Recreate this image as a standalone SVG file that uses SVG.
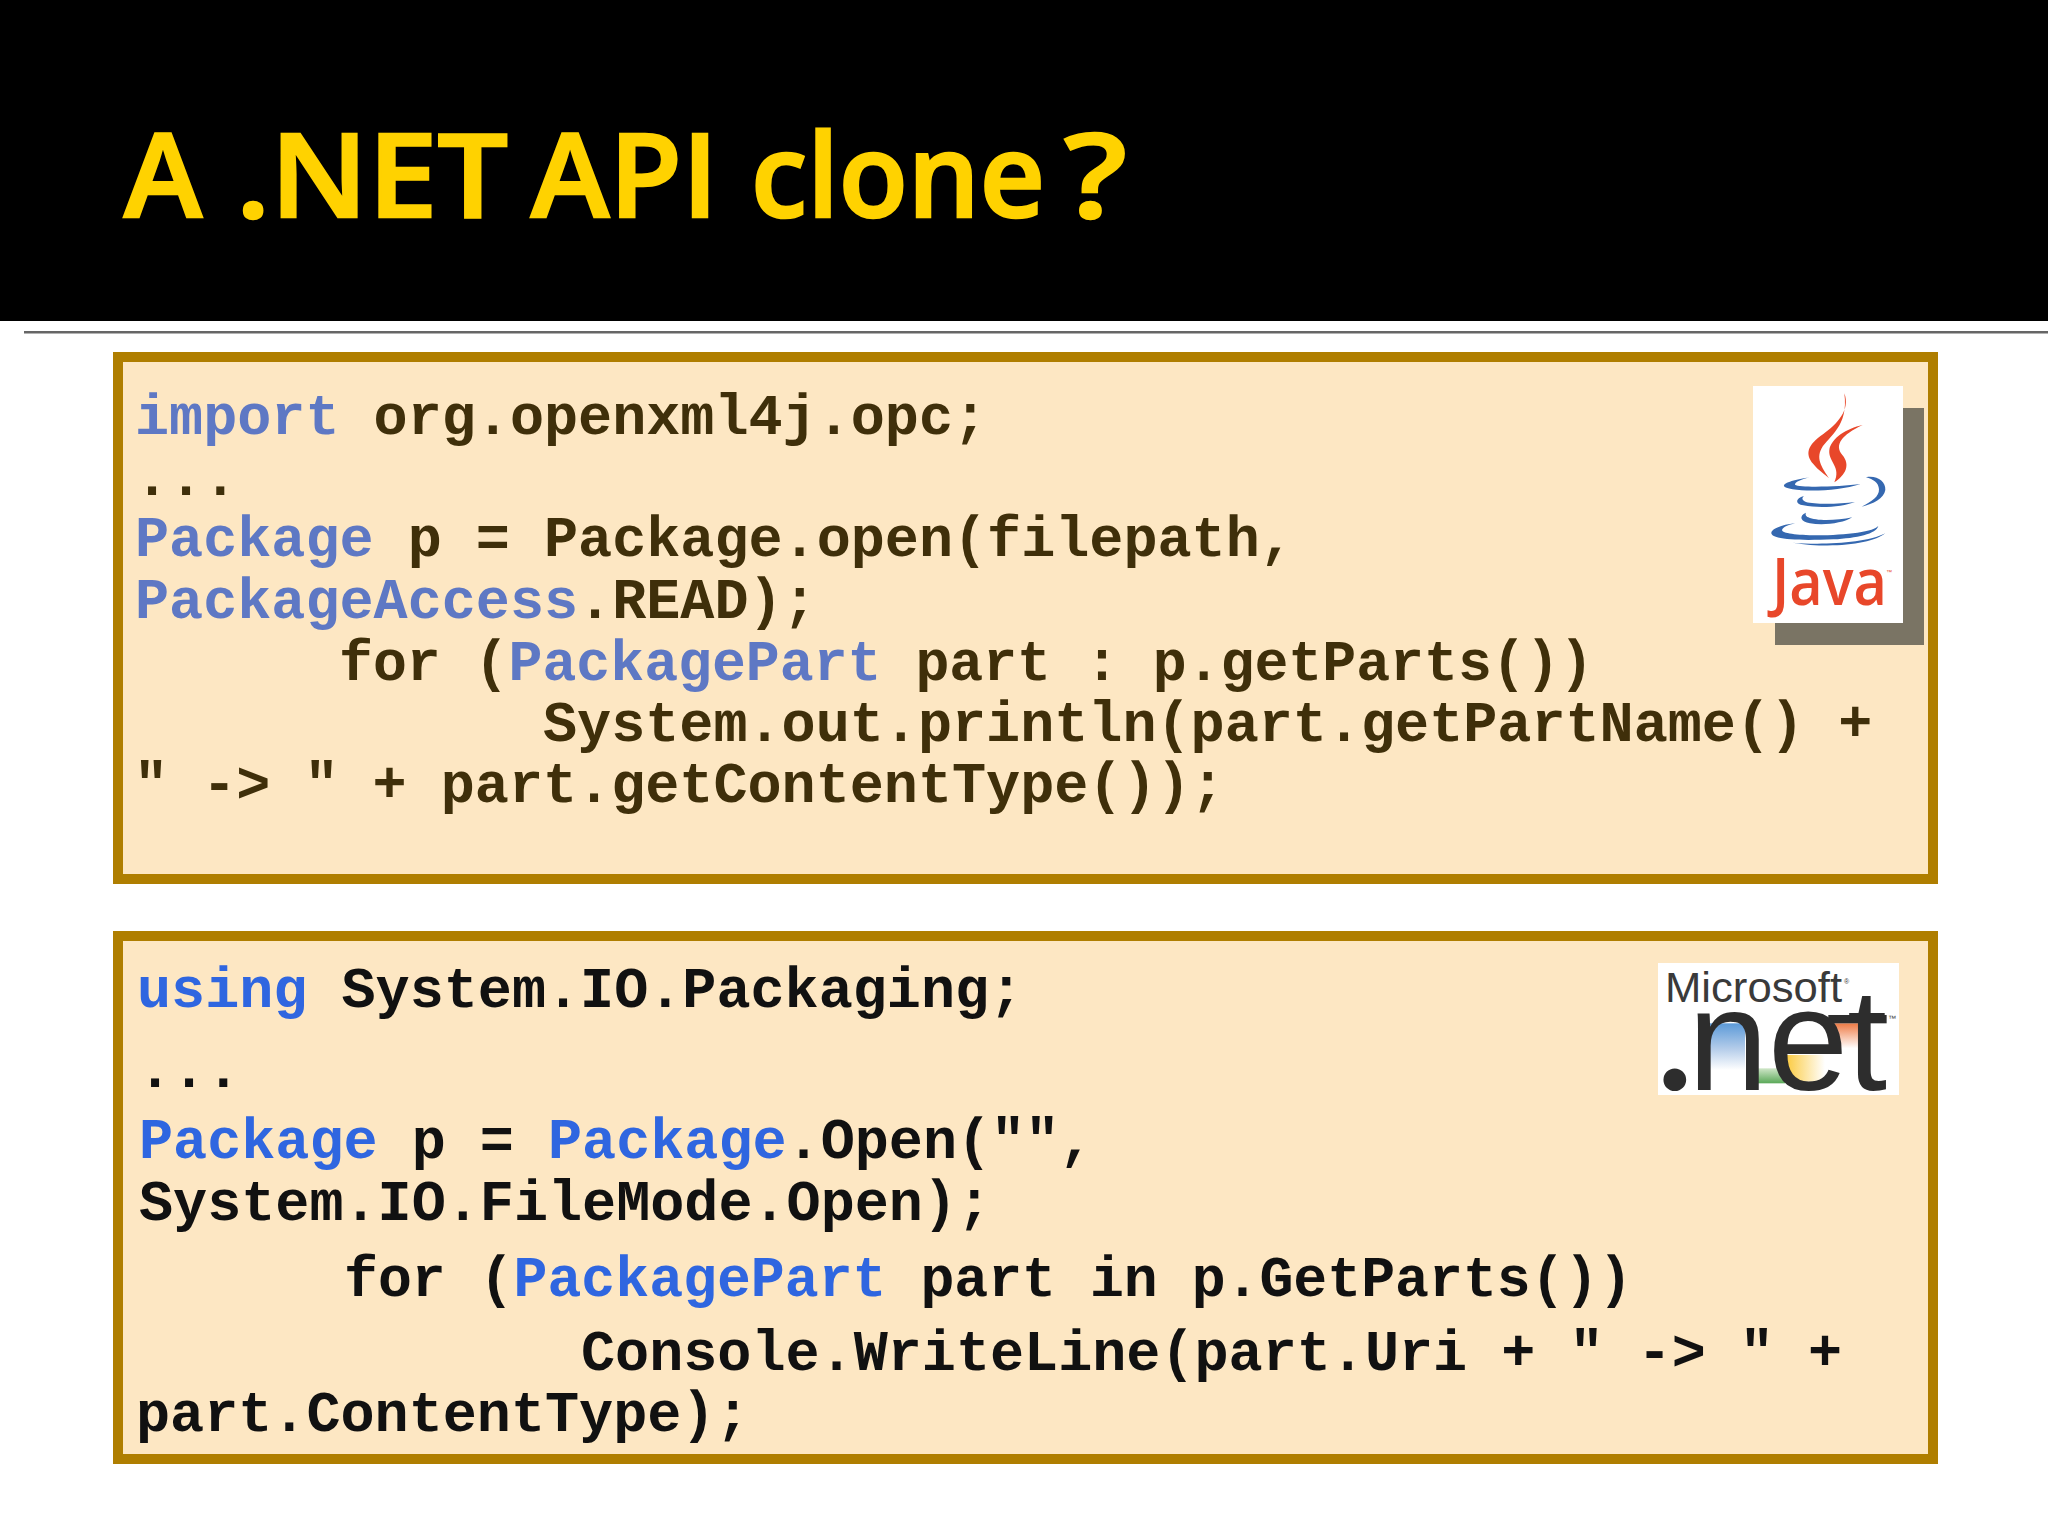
<svg xmlns="http://www.w3.org/2000/svg" width="2048" height="1536" viewBox="0 0 2048 1536">
<style>
.code{font-family:"Liberation Mono",monospace;font-weight:700;font-size:56.8px;white-space:pre}
.j{fill:#3f2f0a}.jk{fill:#5e78c4}.n{fill:#111}.nk{fill:#2f66e0}
.box{fill:#fde7c3;stroke:#af7e00;stroke-width:10}
.red{fill:#e8472a}.blu{fill:#3568b0}
.title{font-family:"Open Sans",sans-serif;font-size:116px;font-weight:600}
</style>
<defs>
<linearGradient id="gb" x1="0" y1="0" x2="0" y2="1"><stop offset="0" stop-color="#5c9ad8"/><stop offset="0.55" stop-color="#b5cdea"/><stop offset="1" stop-color="#fff"/></linearGradient>
<linearGradient id="gg" x1="0" y1="0" x2="0" y2="1"><stop offset="0" stop-color="#cfe6c8"/><stop offset="1" stop-color="#5aa858"/></linearGradient>
<linearGradient id="gy" x1="0" y1="0" x2="1" y2="0"><stop offset="0" stop-color="#fbc93a"/><stop offset="1" stop-color="#fff"/></linearGradient>
<linearGradient id="go" x1="0" y1="0" x2="0" y2="1"><stop offset="0" stop-color="#ee7a45"/><stop offset="1" stop-color="#fff"/></linearGradient>
</defs>
<rect width="2048" height="1536" fill="#fff"/>
<g id="header">
<rect width="2048" height="321" fill="#000"/>
<rect x="24" y="331" width="2024" height="2.5" fill="#666"/>
<text class="title" y="217" fill="#ffd200" stroke="#ffd200" stroke-width="2.5"><tspan x="124" textLength="78" lengthAdjust="spacingAndGlyphs">A</tspan><tspan x="236" textLength="272" lengthAdjust="spacingAndGlyphs">.NET</tspan><tspan x="531" textLength="187" lengthAdjust="spacingAndGlyphs">API</tspan><tspan x="751" textLength="294" lengthAdjust="spacingAndGlyphs">clone</tspan><tspan x="1064" textLength="63" lengthAdjust="spacingAndGlyphs">?</tspan></text>
</g>
<g id="java-box">
<rect class="box" x="118" y="357" width="1815" height="522"/>
<text class="code j" y="434" x="135"><tspan class="jk">import</tspan> org.openxml4j.opc;</text>
<text class="code j" y="495" x="135">...</text>
<text class="code j" y="556" x="135"><tspan class="jk">Package</tspan> p = Package.open(filepath,</text>
<text class="code j" y="618" x="135"><tspan class="jk">PackageAccess</tspan>.READ);</text>
<text class="code j" y="680" x="339" style="font-size:56.5px">for (<tspan class="jk">PackagePart</tspan> part : p.getParts())</text>
<text class="code j" y="741" x="543">System.out.println(part.getPartName() +</text>
<text class="code j" y="802" x="134">" -&gt; " + part.getContentType());</text>
</g>
<g id="java-logo">
<rect x="1775" y="408" width="149" height="237" fill="#7a7464"/>
<rect x="1753" y="386" width="150" height="237" fill="#fff"/>
<g transform="translate(1700,360) scale(0.3333)">
<path class="red" d="M433 100C452 150 412 192 370 222C322 255 314 282 340 312C355 332 375 342 387 355C372 330 345 300 365 265C385 230 447 200 433 100Z"/>
<path class="red" d="M488 195C440 205 393 235 388 270C384 305 425 320 403 367C437 345 452 315 427 285C402 255 425 225 488 195Z"/>
<path class="blu" d="M330 352C290 358 250 368 252 378C256 394 400 400 482 372C420 380 300 384 285 374C285 366 305 358 330 352Z"/>
<path class="blu" d="M498 352C530 345 558 365 556 390C552 415 520 432 485 440C515 425 538 410 537 388C536 368 520 358 498 352Z"/>
<path class="blu" d="M312 408C285 415 285 432 310 436C360 446 430 440 465 426C420 432 345 434 318 426C305 420 305 414 312 408Z"/>
<path class="blu" d="M318 458C295 468 302 485 330 490C370 497 430 490 457 472C410 482 350 484 325 472C316 468 316 462 318 458Z"/>
<path class="blu" d="M285 490C240 495 212 508 214 520C218 540 300 542 400 538C470 534 530 522 535 497C525 515 440 525 350 526C290 526 245 520 246 510C250 500 265 495 285 490Z"/>
<path class="blu" d="M556 520C520 550 400 568 278 548C360 556 500 550 556 520Z"/>
</g>
<text x="1772" y="605" font-family="'Open Sans',sans-serif" font-size="66" font-weight="600" class="red" textLength="115" lengthAdjust="spacingAndGlyphs">Java</text>
<text x="1886" y="574" font-family="'Liberation Sans',sans-serif" font-size="6" class="red">™</text>
</g>
<g id="net-box">
<rect class="box" x="118" y="936" width="1815" height="523"/>
<text class="code n" y="1007" x="137"><tspan class="nk">using</tspan> System.IO.Packaging;</text>
<text class="code n" y="1087" x="138">...</text>
<text class="code n" y="1158" x="139"><tspan class="nk">Package</tspan> p = <tspan class="nk">Package</tspan>.Open("",</text>
<text class="code n" y="1220" x="139">System.IO.FileMode.Open);</text>
<text class="code n" y="1296" x="344" style="font-size:56.5px">for (<tspan class="nk">PackagePart</tspan> part in p.GetParts())</text>
<text class="code n" y="1370" x="581">Console.WriteLine(part.Uri + " -&gt; " +</text>
<text class="code n" y="1431" x="136">part.ContentType);</text>
</g>
<g id="net-logo">
<rect x="1658" y="963" width="241" height="132" fill="#fff"/>
<g transform="translate(1640,940) scale(0.3333)">
<rect x="205" y="250" width="110" height="140" fill="url(#gb)"/>
<rect x="345" y="385" width="90" height="45" fill="url(#gg)"/>
<rect x="435" y="345" width="120" height="80" fill="url(#gy)"/>
<rect x="565" y="250" width="90" height="75" fill="url(#go)"/>
<rect x="565" y="225" width="175" height="25" fill="#2d2d2d"/>
</g>
<text x="1665" y="1002" font-family="'Liberation Sans',sans-serif" font-size="42" fill="#3a3a3a" textLength="177" lengthAdjust="spacingAndGlyphs">Microsoft</text>
<text x="1844" y="984" font-family="'Liberation Sans',sans-serif" font-size="7" fill="#3a3a3a">®</text>
<text y="1090" font-family="'Liberation Sans',sans-serif" font-size="144" fill="#2d2d2d"><tspan x="1657" font-family="Lato,sans-serif" font-weight="700" font-size="150">.</tspan><tspan x="1688">n</tspan><tspan x="1768">e</tspan><tspan x="1847">t</tspan></text>
<text x="1888" y="1021" font-family="'Liberation Sans',sans-serif" font-size="8" fill="#3a3a3a">™</text>
</g>
</svg>
